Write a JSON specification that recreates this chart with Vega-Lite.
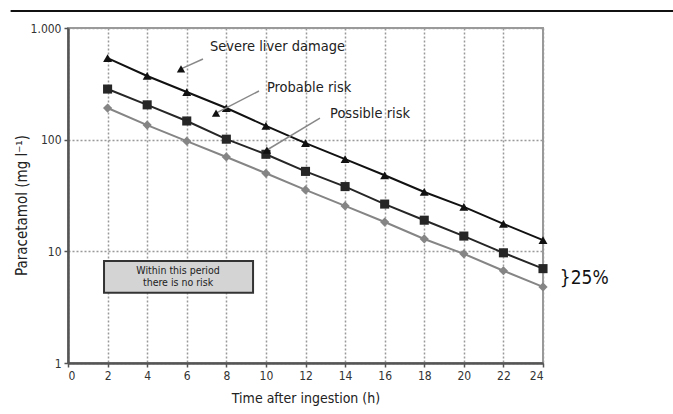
{
  "$schema": "https://vega.github.io/schema/vega-lite/v6.json",
  "width": 475,
  "height": 335,
  "autosize": "none",
  "padding": {"left": 68, "top": 28, "right": 130, "bottom": 51},
  "background": "white",
  "config": {
    "font": "'DejaVu Sans Condensed', Roboto, sans-serif",
    "view": {"stroke": "#9a9a9a", "strokeWidth": 2}
  },
  "datasets": {
    "series": [
      {"s": "Severe", "t": 2, "v": 538}, {"s": "Severe", "t": 4, "v": 372}, {"s": "Severe", "t": 6, "v": 267},
      {"s": "Severe", "t": 8, "v": 192}, {"s": "Severe", "t": 10, "v": 133}, {"s": "Severe", "t": 12, "v": 93},
      {"s": "Severe", "t": 14, "v": 67}, {"s": "Severe", "t": 16, "v": 48}, {"s": "Severe", "t": 18, "v": 34},
      {"s": "Severe", "t": 20, "v": 25}, {"s": "Severe", "t": 22, "v": 17.6}, {"s": "Severe", "t": 24, "v": 12.6},
      {"s": "Probable", "t": 2, "v": 284}, {"s": "Probable", "t": 4, "v": 205}, {"s": "Probable", "t": 6, "v": 147},
      {"s": "Probable", "t": 8, "v": 101}, {"s": "Probable", "t": 10, "v": 74}, {"s": "Probable", "t": 12, "v": 52},
      {"s": "Probable", "t": 14, "v": 38}, {"s": "Probable", "t": 16, "v": 26.5}, {"s": "Probable", "t": 18, "v": 19},
      {"s": "Probable", "t": 20, "v": 13.7}, {"s": "Probable", "t": 22, "v": 9.7}, {"s": "Probable", "t": 24, "v": 7.0},
      {"s": "Possible", "t": 2, "v": 192}, {"s": "Possible", "t": 4, "v": 135}, {"s": "Possible", "t": 6, "v": 97},
      {"s": "Possible", "t": 8, "v": 70}, {"s": "Possible", "t": 10, "v": 50}, {"s": "Possible", "t": 12, "v": 35.5},
      {"s": "Possible", "t": 14, "v": 25.5}, {"s": "Possible", "t": 16, "v": 18.3}, {"s": "Possible", "t": 18, "v": 12.9},
      {"s": "Possible", "t": 20, "v": 9.5}, {"s": "Possible", "t": 22, "v": 6.7}, {"s": "Possible", "t": 24, "v": 4.8}
    ],
    "arrows": [
      {"t": 6.82, "v": 528, "t2": 5.71, "v2": 430},
      {"t": 9.65, "v": 273, "t2": 7.48, "v2": 173},
      {"t": 12.73, "v": 156, "t2": 10.05, "v2": 80.8}
    ],
    "heads": [
      {"t": 5.71, "v": 430},
      {"t": 7.48, "v": 173},
      {"t": 10.05, "v": 80.8}
    ],
    "labels": [
      {"t": 7.17, "v": 676, "label": "Severe liver damage"},
      {"t": 10.05, "v": 293, "label": "Probable risk"},
      {"t": 13.24, "v": 171.5, "label": "Possible risk"}
    ],
    "box": [{"t": 1.82, "t2": 9.35, "v": 8.2, "v2": 4.25}],
    "boxtext": [
      {"t": 5.56, "v": 6.67, "label": "Within this period"},
      {"t": 5.56, "v": 5.2, "label": "there is no risk"}
    ],
    "pct": [{"t": 24.85, "v": 5.77, "label": "}25%"}],
    "top": [{"t": -2.9, "t2": 30.6, "v": 1420}]
  },
  "encoding": {
    "x": {
      "field": "t", "type": "quantitative",
      "scale": {"domain": [0, 24], "nice": false, "zero": false},
      "axis": {
        "title": "Time after ingestion (h)", "titleFontSize": 14, "titleFontWeight": "normal", "titleColor": "#222",
        "titlePadding": 10,
        "values": [0, 2, 4, 6, 8, 10, 12, 14, 16, 18, 20, 22, 24],
        "labelFontSize": 12, "labelColor": "#333", "labelPadding": 3,
        "domainColor": "#555", "domainWidth": 2.5, "tickColor": "#555", "tickSize": 4, "tickWidth": 1.5,
        "grid": true, "gridDash": [2, 2], "gridColor": "#999", "gridWidth": 1.5
      }
    },
    "y": {
      "field": "v", "type": "quantitative",
      "scale": {"type": "log", "domain": [1, 1000], "nice": false},
      "axis": {
        "title": "Paracetamol (mg l⁻¹)", "titleFontSize": 15, "titleFontWeight": "normal", "titleColor": "#222",
        "titlePadding": 1, "titleY": 177,
        "values": [1, 10, 100, 1000],
        "labelExpr": "datum.value == 1000 ? '1.000' : datum.label",
        "labelFontSize": 12, "labelColor": "#333", "labelPadding": 3,
        "domainColor": "#555", "domainWidth": 2.5, "tickColor": "#555", "tickSize": 4, "tickWidth": 1.5,
        "grid": true, "gridDash": [2, 2], "gridColor": "#999", "gridWidth": 1.5
      }
    }
  },
  "layer": [
    {
      "data": {"name": "box"},
      "mark": {"type": "rect", "fill": "#d4d4d4", "stroke": "#333", "strokeWidth": 2},
      "encoding": {"x2": {"field": "t2"}, "y2": {"field": "v2"}}
    },
    {
      "data": {"name": "boxtext"},
      "mark": {"type": "text", "fontSize": 10.5, "color": "#222", "align": "center", "baseline": "middle"},
      "encoding": {"text": {"field": "label"}}
    },
    {
      "data": {"name": "series"},
      "mark": {"type": "line", "strokeWidth": 2},
      "encoding": {
        "color": {"field": "s", "type": "nominal", "legend": null,
          "scale": {"domain": ["Severe", "Probable", "Possible"], "range": ["#111111", "#262626", "#858585"]}}
      }
    },
    {
      "data": {"name": "series"},
      "mark": {"type": "point", "filled": true, "opacity": 1},
      "encoding": {
        "color": {"field": "s", "type": "nominal", "legend": null,
          "scale": {"domain": ["Severe", "Probable", "Possible"], "range": ["#111111", "#262626", "#858585"]}},
        "shape": {"field": "s", "type": "nominal", "legend": null,
          "scale": {"domain": ["Severe", "Probable", "Possible"], "range": ["triangle-up", "square", "diamond"]}},
        "size": {"field": "s", "type": "nominal", "legend": null,
          "scale": {"domain": ["Severe", "Probable", "Possible"], "range": [80, 85, 60]}}
      }
    },
    {
      "data": {"name": "arrows"},
      "mark": {"type": "rule", "color": "#888", "strokeWidth": 1.5},
      "encoding": {"x2": {"field": "t2"}, "y2": {"field": "v2"}}
    },
    {
      "data": {"name": "heads"},
      "mark": {"type": "point", "shape": "triangle-up", "filled": true, "color": "#111", "size": 70, "opacity": 1}
    },
    {
      "data": {"name": "labels"},
      "mark": {"type": "text", "fontSize": 14.5, "color": "#222", "align": "left", "baseline": "middle"},
      "encoding": {"text": {"field": "label"}}
    },
    {
      "data": {"name": "pct"},
      "mark": {"type": "text", "fontSize": 19, "color": "#111", "align": "left", "baseline": "middle"},
      "encoding": {"text": {"field": "label"}}
    },
    {
      "data": {"name": "top"},
      "mark": {"type": "rule", "color": "#111", "strokeWidth": 2},
      "encoding": {"x2": {"field": "t2"}}
    }
  ]
}
